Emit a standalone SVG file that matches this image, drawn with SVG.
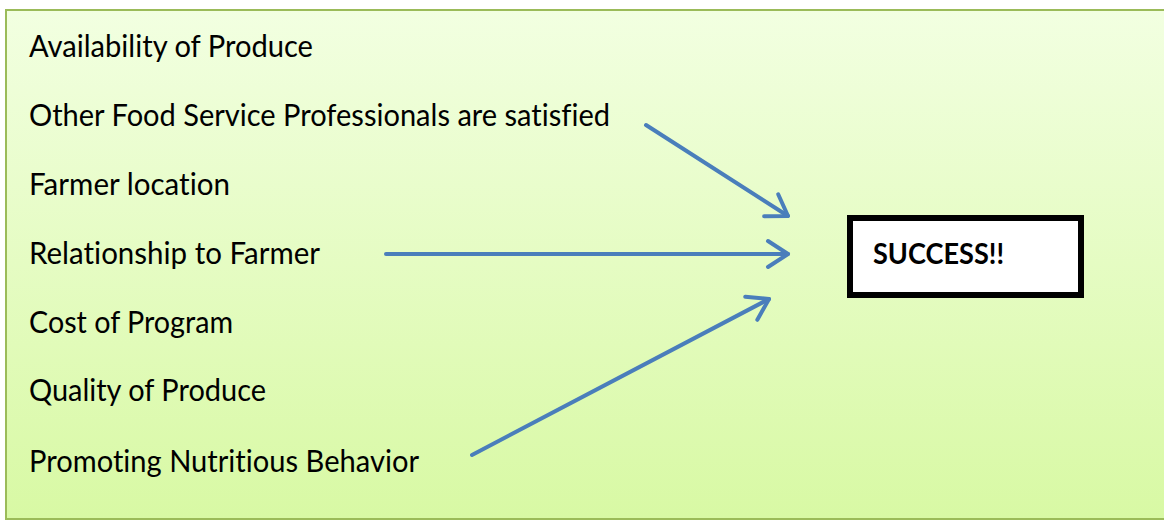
<svg xmlns="http://www.w3.org/2000/svg" width="1164" height="520" viewBox="0 0 1164 520">
  <style>
    .lbl { font-family: Lato, "Open Sans", "Liberation Sans", sans-serif; font-size: 31px; fill: #000; font-variant-ligatures: none; font-feature-settings: "liga" 0; }
    .conn { stroke: #4a7ebb; stroke-width: 4; stroke-linecap: round; fill: none; }
    .box { fill: #ffffff; stroke: #000; stroke-width: 6; }
    .boxtxt { font-family: Lato, "Open Sans", "Liberation Sans", sans-serif; font-size: 28px; font-weight: bold; fill: #000; }
  </style>
  <defs>
    <linearGradient id="bg" x1="0" y1="0" x2="0" y2="1">
      <stop offset="0" stop-color="#f2ffe1"/>
      <stop offset="1" stop-color="#d8f9a4"/>
    </linearGradient>
    <marker id="arr" viewBox="-24 -16 28 32" markerWidth="28" markerHeight="32" refX="0" refY="0" orient="auto" markerUnits="userSpaceOnUse">
      <path d="M -20 -13 L 0 0 L -20 13" stroke="#4a7ebb" stroke-width="4" stroke-linecap="round" stroke-linejoin="round" fill="none"/>
    </marker>
  </defs>
  <rect id="panel" x="6" y="10" width="1170" height="509" fill="url(#bg)" stroke="#9bbb59" stroke-width="2"/>
  <g id="factors">
    <g id="n1"><text class="lbl" x="29" y="57" textLength="284" lengthAdjust="spacingAndGlyphs">Availability of Produce</text></g>
    <g id="n2"><text class="lbl" x="29" y="126" textLength="581" lengthAdjust="spacingAndGlyphs">Other Food Service Professionals are satisfied</text></g>
    <g id="n3"><text class="lbl" x="29" y="195" textLength="201" lengthAdjust="spacingAndGlyphs">Farmer location</text></g>
    <g id="n4"><text class="lbl" x="29" y="264" textLength="291" lengthAdjust="spacingAndGlyphs">Relationship to Farmer</text></g>
    <g id="n5"><text class="lbl" x="29" y="333" textLength="204" lengthAdjust="spacingAndGlyphs">Cost of Program</text></g>
    <g id="n6"><text class="lbl" x="29" y="401" textLength="237" lengthAdjust="spacingAndGlyphs">Quality of Produce</text></g>
    <g id="n7"><text class="lbl" x="29" y="472" textLength="390" lengthAdjust="spacingAndGlyphs">Promoting Nutritious Behavior</text></g>
  </g>
  <g id="success">
    <rect class="box" x="850" y="218" width="231" height="77"/>
    <text class="boxtxt" x="873" y="264" textLength="131" lengthAdjust="spacingAndGlyphs">SUCCESS!!</text>
  </g>
  <g id="connectors">
    <line class="conn" x1="646" y1="125" x2="788" y2="216" marker-end="url(#arr)"/>
    <line class="conn" x1="386" y1="254" x2="788" y2="254" marker-end="url(#arr)"/>
    <line class="conn" x1="472" y1="455" x2="769" y2="299" marker-end="url(#arr)"/>
  </g>
</svg>
